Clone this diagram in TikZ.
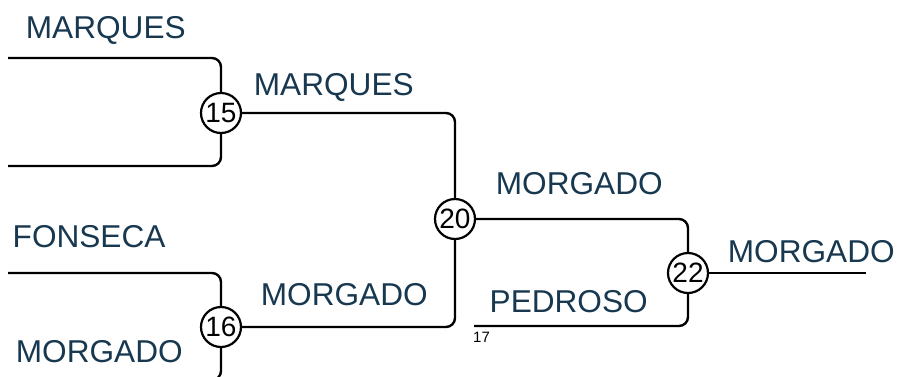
\documentclass[tikz,border=0pt]{standalone}
\usepackage{fontspec}
\setmainfont{Liberation Sans}
\definecolor{labelblue}{RGB}{24,56,80}
\begin{document}
\begin{tikzpicture}[x=1pt,y=-1pt,
  wire/.style={line width=2.4pt, rounded corners=9pt, black},
  matchnode/.style={circle, draw=black, line width=2.2pt, fill=white, minimum size=40pt, inner sep=0pt, font=\fontsize{28}{32}\selectfont},
  playerlabel/.style={anchor=base west, inner sep=0pt, text=labelblue, font=\fontsize{31.6}{36}\selectfont},
  tinylabel/.style={anchor=base west, inner sep=0pt, text=black, font=\fontsize{15}{18}\selectfont}]
\useasboundingbox (0,0) rectangle (898,376);
% match nodes
\node[matchnode] (m15) at (221,113) {15};
\node[matchnode] (m16) at (221,327) {16};
\node[matchnode] (m20) at (455,219) {20};
\node[matchnode] (m22) at (688,273) {22};
% slot ends
\coordinate (s1) at (8,58);
\coordinate (s2) at (8,166);
\coordinate (s3) at (8,273);
\coordinate (s4) at (8,380);
\coordinate (s5) at (474,326);
\coordinate (win) at (866,273);
% wires
\draw[wire] (s1) -| (m15);
\draw[wire] (s2) -| (m15);
\draw[wire] (s3) -| (m16);
\draw[wire] (s4) -| (m16);
\draw[wire] (m15) -| (m20);
\draw[wire] (m16) -| (m20);
\draw[wire] (m20) -| (m22);
\draw[wire] (s5) -| (m22);
\draw[wire] (m22) -- (win);
% labels
\node[playerlabel] (l1) at (25.7,38) {MARQUES};
\node[playerlabel] (l2) at (253.7,95) {MARQUES};
\node[playerlabel] (l3) at (12.5,247) {FONSECA};
\node[playerlabel] (l4) at (15.7,362) {MORGADO};
\node[playerlabel] (l5) at (260.7,305) {MORGADO};
\node[playerlabel] (l6) at (495.7,194) {MORGADO};
\node[playerlabel] (l7) at (489.5,312) {PEDROSO};
\node[playerlabel] (l8) at (727.7,262) {MORGADO};
\node[tinylabel] (n17) at (473,342) {17};
\end{tikzpicture}
\end{document}
